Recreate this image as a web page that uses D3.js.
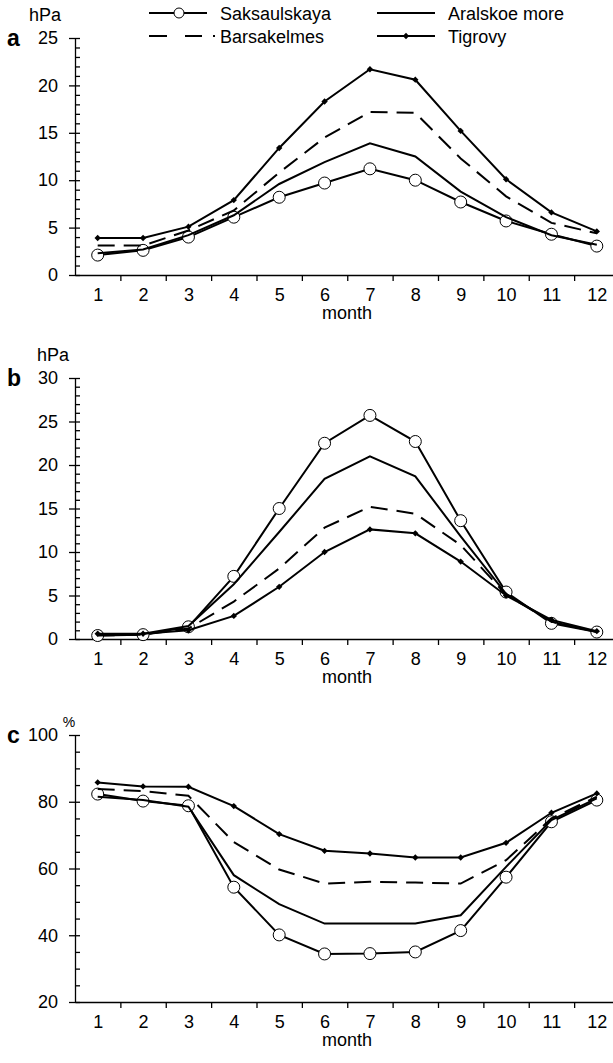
<!DOCTYPE html>
<html>
<head>
<meta charset="utf-8">
<script src="https://cdn.jsdelivr.net/npm/d3@7/dist/d3.min.js"></script>
<style>
  body { margin: 0; background: #fff; }
  svg { display: block; font-family: "Liberation Sans", Arial, sans-serif; }
  .axis path, .axis line { stroke: #000; stroke-width: 1.3; }
  .axis text { font-size: 18px; fill: #000; font-family: "Liberation Sans", Arial, sans-serif; }
</style>
</head>
<body>
<svg width="613" height="1063"></svg>
<script>
// data
const months = [1, 2, 3, 4, 5, 6, 7, 8, 9, 10, 11, 12];
const seriesNames = ["Saksaulskaya", "Aralskoe more", "Barsakelmes", "Tigrovy"];

// a: hPa
const aSaks = [2.1, 2.6, 4.0, 6.1, 8.2, 9.7, 11.2, 10.0, 7.7, 5.7, 4.3, 3.05];
const aAral = [2.3, 2.7, 4.2, 6.3, 9.6, 11.9, 13.9, 12.5, 8.8, 6.1, 4.2, 3.2];
const aBars = [3.1, 3.1, 4.7, 6.8, 10.8, 14.5, 17.2, 17.1, 12.3, 8.3, 5.5, 4.4];
const aTig  = [3.9, 3.9, 5.1, 7.9, 13.4, 18.3, 21.7, 20.6, 15.2, 10.1, 6.6, 4.6];

// b: hPa
const bSaks = [0.4, 0.5, 1.4, 7.2, 15.0, 22.5, 25.7, 22.7, 13.6, 5.4, 1.8, 0.8];
const bAral = [0.5, 0.6, 1.5, 6.3, 12.3, 18.4, 21.0, 18.7, 11.8, 5.2, 2.0, 0.8];
const bBars = [0.4, 0.5, 1.2, 4.3, 8.1, 12.8, 15.2, 14.4, 10.8, 5.1, 2.0, 0.8];
const bTig  = [0.6, 0.6, 1.0, 2.65, 6.0, 10.0, 12.6, 12.15, 8.9, 5.0, 2.2, 0.9];

// c: %
const cSaks = [82.3, 80.2, 78.8, 54.4, 40.1, 34.4, 34.5, 35.0, 41.4, 57.4, 74.0, 80.5];
const cAral = [81.5, 80.5, 78.5, 58.0, 49.3, 43.5, 43.5, 43.5, 46.0, 60.5, 74.5, 81.0];
const cBars = [83.8, 83.2, 81.8, 67.9, 59.7, 55.5, 56.0, 55.8, 55.5, 62.5, 75.0, 81.5];
const cTig  = [85.8, 84.6, 84.5, 78.7, 70.3, 65.3, 64.5, 63.3, 63.3, 67.7, 76.7, 82.5];

const aTicks = [0, 5, 10, 15, 20, 25];
const bTicks = [0, 5, 10, 15, 20, 25, 30];
const cTicks = [20, 40, 60, 80, 100];

const panels = [
  { letter: "a", unit: "hPa", ticks: aTicks, minor: 1, top: 38, bottom: 275, series: [aSaks, aAral, aBars, aTig], unitX: 45, unitY: 15, unitSize: 18 },
  { letter: "b", unit: "hPa", ticks: bTicks, minor: 1, top: 378, bottom: 639, series: [bSaks, bAral, bBars, bTig], unitX: 53, unitY: 355, unitSize: 18 },
  { letter: "c", unit: "%", ticks: cTicks, minor: 5, top: 735, bottom: 1002, series: [cSaks, cAral, cBars, cTig], unitX: 69, unitY: 722, unitSize: 14 }
];

const svg = d3.select("svg");
const x = d3.scaleLinear().domain([0.5, 12.5]).range([75, 619.5]);

const styles = [
  { dash: null, marker: "circle" },
  { dash: null, marker: null },
  { dash: "17,9", marker: null },
  { dash: null, marker: "diamond" }
];

// square turned 45 degrees = small even diamond
const diamond = d3.symbol().type(d3.symbolSquare).size(20);

panels.forEach(p => {
  const ext = d3.extent(p.ticks);
  const y = d3.scaleLinear().domain(ext).range([p.bottom, p.top]);
  const g = svg.append("g");

  // x axis: ticks between months
  g.append("g").attr("class", "axis")
    .attr("transform", `translate(0,${p.bottom})`)
    .call(d3.axisBottom(x).tickValues(d3.range(1.5, 12, 1)).tickSize(6).tickSizeOuter(0).tickFormat(""));
  g.append("g").attr("class", "axis")
    .attr("transform", `translate(0,${p.bottom})`)
    .call(d3.axisBottom(x).tickValues(months).tickSize(0).tickPadding(13).tickFormat(d3.format("d")))
    .call(a => a.select(".domain").remove());

  // y axis
  g.append("g").attr("class", "axis")
    .attr("transform", "translate(75,0)")
    .call(d3.axisLeft(y).tickValues(p.ticks).tickSize(6).tickSizeOuter(0).tickPadding(11));
  g.append("g").attr("class", "axis")
    .attr("transform", "translate(75,0)")
    .call(d3.axisRight(y).tickValues(d3.range(ext[0], ext[1] + 0.001, p.minor)).tickSize(5).tickFormat(""))
    .call(a => a.select(".domain").remove());

  g.append("text").attr("x", 347).attr("y", p.bottom + 44)
    .attr("text-anchor", "middle").attr("font-size", 18).text("month");
  g.append("text").attr("x", 7).attr("y", p.top + 8)
    .attr("font-size", 23).attr("font-weight", "bold").text(p.letter);
  g.append("text").attr("x", p.unitX).attr("y", p.unitY + p.unitSize * 0.36)
    .attr("text-anchor", "middle").attr("font-size", p.unitSize).text(p.unit);

  const line = d3.line().x((d, i) => x(months[i])).y(d => y(d));

  p.series.forEach((vals, si) => {
    const st = styles[si];
    g.append("path").datum(vals)
      .attr("d", line)
      .attr("fill", "none").attr("stroke", "#000").attr("stroke-width", 2)
      .attr("stroke-dasharray", st.dash);
    if (st.marker === "circle") {
      g.selectAll(null).data(vals).enter().append("circle")
        .attr("cx", (d, i) => x(months[i])).attr("cy", d => y(d))
        .attr("r", 6).attr("fill", "#fff").attr("stroke", "#000").attr("stroke-width", 1);
    } else if (st.marker === "diamond") {
      g.selectAll(null).data(vals).enter().append("path")
        .attr("d", diamond)
        .attr("transform", (d, i) => `translate(${x(months[i])},${y(d)}) rotate(45)`)
        .attr("fill", "#000");
    }
  });
});

// legend
const legendItems = [
  { name: seriesNames[0], st: styles[0], lx: 149, ty: 13 },
  { name: seriesNames[1], st: styles[1], lx: 377, ty: 13 },
  { name: seriesNames[2], st: styles[2], lx: 149, ty: 36 },
  { name: seriesNames[3], st: styles[3], lx: 377, ty: 36 }
];
const leg = svg.append("g");
legendItems.forEach(it => {
  leg.append("line").attr("x1", it.lx).attr("x2", it.st.dash ? it.lx + 66 : it.lx + 58)
    .attr("y1", it.ty).attr("y2", it.ty)
    .attr("stroke", "#000").attr("stroke-width", 2)
    .attr("stroke-dasharray", it.st.dash ? "18,18,17,11,2,20" : null);
  if (it.st.marker === "circle") {
    leg.append("circle").attr("cx", it.lx + 30).attr("cy", it.ty).attr("r", 5)
      .attr("fill", "#fff").attr("stroke", "#000");
  } else if (it.st.marker === "diamond") {
    leg.append("path").attr("d", diamond).attr("transform", `translate(${it.lx + 29},${it.ty}) rotate(45)`);
  }
  leg.append("text").attr("x", it.lx + 71).attr("y", it.ty + 6.5)
    .attr("font-size", 18).text(it.name);
});
</script>
</body>
</html>
